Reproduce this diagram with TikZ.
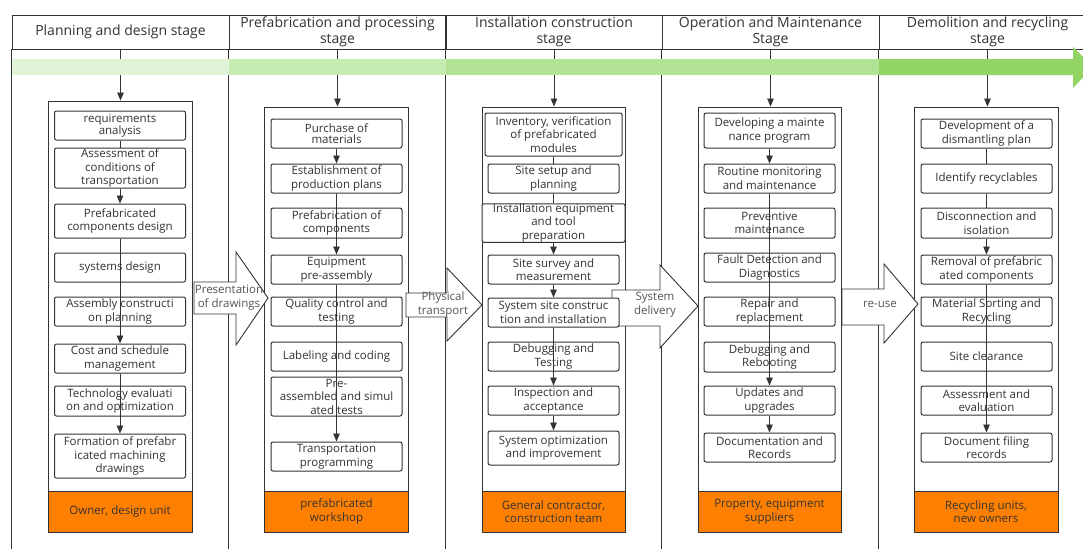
\documentclass[tikz,border=0pt]{standalone}
\usepackage{fontspec}
\setmainfont{Open Sans}
\usetikzlibrary{arrows.meta}
\definecolor{ink}{HTML}{333333}
\definecolor{labelgrey}{HTML}{555555}
\definecolor{footer}{HTML}{FF8000}
\definecolor{bandA}{HTML}{E2F4D7}
\definecolor{bandB}{HTML}{C7ECB2}
\definecolor{bandC}{HTML}{B2E395}
\definecolor{bandD}{HTML}{93D565}
\tikzset{
	headcell/.style={draw=ink, line width=0.8pt, minimum width=217pt, minimum height=34pt, inner sep=0pt, align=center, text=ink, font=\fontsize{14}{16.5}\selectfont},
	stagebox/.style={draw=ink, fill=white, line width=0.9pt, minimum width=144pt, inner sep=0pt},
	owner/.style={draw=ink, fill=footer, line width=0.9pt, minimum width=144pt, minimum height=41pt, inner sep=0pt, align=center, text=ink, font=\fontsize{11.5}{13.5}\selectfont},
	task/.style={draw=ink, fill=white, rounded corners=2pt, line width=1pt, minimum width=131pt, minimum height=29pt, inner sep=0pt, align=center, text=ink, font=\fontsize{11.5}{13.5}\selectfont},
	tight/.style={font=\fontsize{11.5}{11}\selectfont},
	flow/.style={draw=ink, line width=0.8pt, -{Triangle[length=8pt,width=6.5pt]}},
	link/.style={draw=ink, line width=0.8pt},
	bigarrow/.style={draw=ink, fill=white, line width=0.9pt, line join=miter},
	arrowtext/.style={text=labelgrey, align=center, inner sep=0pt, font=\fontsize{11.5}{14}\selectfont}
}
\begin{document}
\begin{tikzpicture}[x=1pt,y=-1pt]
		\useasboundingbox (0,0) rectangle (1083,549);
		\clip (0,0) rectangle (1083,549);
		\fill[white] (0,0) rectangle (1083,549);

		\node[headcell] (h1) at (120.5,32) {Planning and design stage};
		\node[headcell] (h2) at (337.5,32) {Prefabrication and processing\\stage};
		\node[headcell] (h3) at (554,32) {Installation construction\\stage};
		\node[headcell] (h4) at (770.5,32) {Operation and Maintenance\\Stage};
		\node[headcell] (h5) at (987.5,32) {Demolition and recycling\\stage};

		\foreach \h in {h1,h2,h3,h4,h5}
			\draw[ink, line width=0.8pt] (\h.south west) -- ++(0,500);

		\node[stagebox, minimum height=431pt] (k1) at (120,316.5) {};
		\node[stagebox, minimum height=425pt] (k2) at (336.5,319.5) {};
		\node[stagebox, minimum height=425pt, minimum width=143pt] (k3) at (553.5,319.5) {};
		\node[stagebox, minimum height=425pt, minimum width=143pt] (k4) at (769.5,319.5) {};
		\node[stagebox, minimum height=425pt] (k5) at (986,319.5) {};

		\node[owner] (f1) at (120,511.5) {Owner, design unit};
		\node[owner] (f2) at (336.5,511.5) {prefabricated\\workshop};
		\node[owner, minimum width=143pt] (f3) at (553.5,511.5) {General contractor,\\construction team};
		\node[owner, minimum width=143pt] (f4) at (769.5,511.5) {Property, equipment\\suppliers};
		\node[owner] (f5) at (986,511.5) {Recycling units,\\new owners};

		\foreach \i in {1,...,5}
			\path (h\i.south) edge[flow] (h\i.south |- k\i.north);

		\fill[bandA] (12,59) rectangle (229,75);
		\fill[bandB] (229,59) rectangle (446,75);
		\fill[bandC] (446,59) rectangle (879,75);
		\fill[bandD] (879,59) -- (1073,59) -- (1073,47) -- (1093,67) -- (1073,88) -- (1073,75) -- (879,75) -- cycle;

		\draw[bigarrow] (194,282) -- (236,282) -- (236,252) -- (268,298) -- (236,345) -- (236,314) -- (194,314) -- cycle;
		\draw[bigarrow] (406,293) -- (447,293) -- (447,268) -- (482,305) -- (447,341) -- (447,317) -- (406,317) -- cycle;
		\draw[bigarrow] (612,290) -- (660,290) -- (660,265) -- (698,306) -- (660,348) -- (660,326) -- (612,326) -- cycle;
		\draw[bigarrow] (842,289) -- (884,289) -- (884,264) -- (918,304) -- (884,343) -- (884,325) -- (842,325) -- cycle;
		\node[arrowtext] (pres) at (229,298) {Presentation\\of drawings};
		\node[arrowtext] (phys) at (443,305) {Physical\\transport};
		\node[arrowtext] (deliv) at (655,305) {System\\delivery};
		\node[arrowtext] (reuse) at (880,304) {re-use};

		\node[task, tight] (c1a) at (120,125.5) {requirements\\analysis};
		\node[task, minimum height=40pt] (c1b) at (120,168) {Assessment of\\conditions of\\transportation};
		\node[task, minimum height=34pt] (c1c) at (120,221) {Prefabricated\\components design};
		\node[task] (c1d) at (120,267.5) {systems design};
		\node[task] (c1e) at (120,311.5) {Assembly constructi\\on planning};
		\node[task] (c1f) at (120,358.5) {Cost and schedule\\management};
		\node[task, minimum height=30pt] (c1g) at (120,401) {Technology evaluati\\on and optimization};
		\node[task, minimum height=44pt] (c1h) at (120,456) {Formation of prefabr\\icated machining\\drawings};

		\node[task, tight] (c2a) at (336.5,133.5) {Purchase of\\materials};
		\node[task] (c2b) at (336.5,178.5) {Establishment of\\production plans};
		\node[task, minimum height=30pt] (c2c) at (336.5,223) {Prefabrication of\\components};
		\node[task] (c2d) at (336.5,269.5) {Equipment\\pre-assembly};
		\node[task] (c2e) at (336.5,311.5) {Quality control and\\testing};
		\node[task] (c2f) at (336.5,356.5) {Labeling and coding};
		\node[task, minimum height=39pt] (c2g) at (336.5,396.5) {Pre-\\assembled and simul\\ated tests};
		\node[task] (c2h) at (336.5,456.5) {Transportation\\programming};

		\node[task, minimum width=137pt, minimum height=43pt] (c3a) at (553.5,134.5) {Inventory, verification\\of prefabricated\\modules};
		\node[task] (c3b) at (553.5,178.5) {Site setup and\\planning};
		\node[task, minimum width=143pt, minimum height=38pt] (c3c) at (553.5,223) {Installation equipment\\and tool\\preparation};
		\node[task] (c3d) at (553.5,269.5) {Site survey and\\measurement};
		\node[task] (c3e) at (553.5,312.5) {System site construc\\tion and installation};
		\node[task] (c3f) at (553.5,356.5) {Debugging and\\Testing};
		\node[task] (c3g) at (553.5,400.5) {Inspection and\\acceptance};
		\node[task, minimum height=34pt] (c3h) at (553.5,448) {System optimization\\and improvement};

		\node[task, minimum height=35pt] (c4a) at (769.5,130.5) {Developing a mainte\\nance program};
		\node[task] (c4b) at (769.5,178.5) {Routine monitoring\\and maintenance};
		\node[task, minimum height=30pt] (c4c) at (769.5,223) {Preventive\\maintenance};
		\node[task] (c4d) at (769.5,267.5) {Fault Detection and\\Diagnostics};
		\node[task] (c4e) at (769.5,311.5) {Repair and\\replacement};
		\node[task, minimum height=30pt] (c4f) at (769.5,357) {Debugging and\\Rebooting};
		\node[task] (c4g) at (769.5,400.5) {Updates and\\upgrades};
		\node[task] (c4h) at (769.5,447.5) {Documentation and\\Records};

		\node[task] (c5a) at (986.5,133.5) {Development of a\\dismantling plan};
		\node[task] (c5b) at (986.5,178.5) {Identify recyclables};
		\node[task, minimum height=30pt] (c5c) at (986.5,223) {Disconnection and\\isolation};
		\node[task] (c5d) at (986.5,269.5) {Removal of prefabric\\ated components};
		\node[task] (c5e) at (986.5,311.5) {Material Sorting and\\Recycling};
		\node[task] (c5f) at (986.5,356.5) {Site clearance};
		\node[task] (c5g) at (986.5,400.5) {Assessment and\\evaluation};
		\node[task] (c5h) at (986.5,447.5) {Document filing\\records};

		\path (c1a) edge[link] (c1b);
		\path (c1b) edge[flow] (c1c);
		\path (c1c) edge[flow] (c1f);
		\path (c1f) edge[flow] (c1h);

		\path (c2a) edge[flow] (c2b);
		\path (c2b) edge[flow] (c2d);
		\path (c2d) edge[flow] (c2h);

		\path (c3a) edge[link] (c3b);
		\path (c3b) edge[link] (c3c);
		\path (c3c) edge[flow] (c3d);
		\path (c3d) edge[flow] (c3e);
		\path (c3e) edge[flow] (c3g);
		\path (c3g) edge[flow] (c3h);

		\path (c4a) edge[flow] (c4b);
		\path (c4b) edge[flow] (c4g);
		\path (c4g) edge[flow] (c4h);

		\path (c5a) edge[link] (c5b);
		\path (c5b) edge[link] (c5c);
		\path (c5c) edge[flow] (c5d);
		\path (c5d) edge[flow] (c5h);

	\end{tikzpicture}
\end{document}
